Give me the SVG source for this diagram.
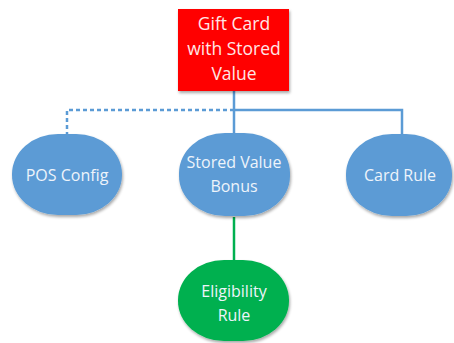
<svg xmlns="http://www.w3.org/2000/svg" width="454" height="343" viewBox="0 0 454 343">
<defs>
<filter id="sh" x="-10%" y="-10%" width="125%" height="125%">
<feGaussianBlur in="SourceAlpha" stdDeviation="1.5"/>
<feOffset dx="1" dy="1.5" result="b"/>
<feComponentTransfer><feFuncA type="linear" slope="0.35"/></feComponentTransfer>
<feMerge><feMergeNode/><feMergeNode in="SourceGraphic"/></feMerge>
</filter>
</defs>
<style>
text{font-family:"Open Sans","Liberation Sans",sans-serif;font-size:16px;text-anchor:middle}
.blue{fill:#5b9bd5;filter:url(#sh)}
.green{fill:#00b050;filter:url(#sh)}
.red{fill:#ff0000;filter:url(#sh)}
.lt{fill:#eef4fb}
.lr{fill:#ffe6e6;font-size:17.5px}
.ln{fill:none;stroke:#5b9bd5;stroke-width:2.5}
</style>
<rect width="454" height="343" fill="#ffffff"/>
<g id="connectors">
<path class="ln" d="M234,91 V133"/>
<path class="ln" d="M234,110 H402 V134"/>
<path class="ln" d="M234,110 H67 V134" stroke-dasharray="4,3"/>
<path d="M234,217 V260" fill="none" stroke="#00b050" stroke-width="2.5"/>
</g>
<g id="gift-card">
<rect class="red" x="178" y="9" width="111" height="82"/>
<text class="lr" x="234" y="30">Gift Card</text>
<text class="lr" x="234" y="55">with Stored</text>
<text class="lr" x="234" y="80">Value</text>
</g>
<g id="pos-config">
<rect class="blue" x="12" y="134" width="110" height="81" rx="46" ry="40"/>
<text class="lt" x="67" y="181">POS Config</text>
</g>
<g id="stored-value-bonus">
<rect class="blue" x="179" y="133" width="111" height="83" rx="46" ry="40"/>
<text class="lt" x="234" y="168">Stored Value</text>
<text class="lt" x="234" y="192">Bonus</text>
</g>
<g id="card-rule">
<rect class="blue" x="346" y="134" width="106" height="82" rx="46" ry="40"/>
<text class="lt" x="400" y="181">Card Rule</text>
</g>
<g id="eligibility-rule">
<rect class="green" x="178" y="260" width="111" height="81" rx="46" ry="40"/>
<text class="lt" x="234" y="297">Eligibility</text>
<text class="lt" x="234" y="321">Rule</text>
</g>
</svg>
